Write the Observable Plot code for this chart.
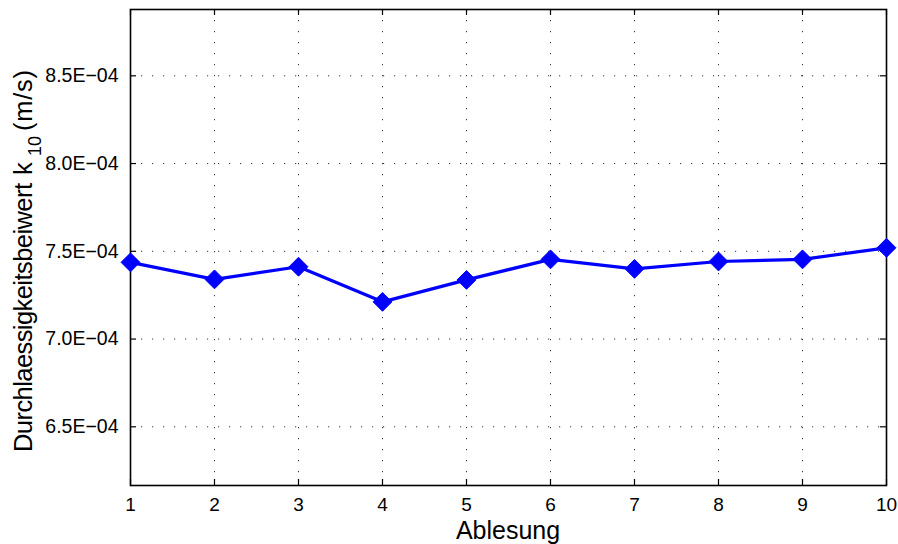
<!DOCTYPE html>
<html><head><meta charset="utf-8">
<script src="https://cdn.jsdelivr.net/npm/d3@7"></script>
<script src="https://cdn.jsdelivr.net/npm/@observablehq/plot@0.6"></script>
<style>body{margin:0;background:#fff;} svg{display:block;}</style>
</head><body><div id="chart"></div>
<script>
const ablesung = [1,2,3,4,5,6,7,8,9,10];
const kValues = [7.437e-4,7.340e-4,7.412e-4,7.212e-4,7.337e-4,7.454e-4,7.400e-4,7.442e-4,7.454e-4,7.520e-4];
const yTicks = [6.5e-4,7.0e-4,7.5e-4,8.0e-4,8.5e-4];
const yTickLabels = ["6.5E\u221204","7.0E\u221204","7.5E\u221204","8.0E\u221204","8.5E\u221204"];
const xTicks = [1,2,3,4,5,6,7,8,9,10];
const xLabel = "Ablesung";
const yLabelMain = "Durchlaessigkeitsbeiwert";
const yLabelSym = "k";
const yLabelSub = "10";
const yLabelUnit = "(m/s)";

const W = 898, H = 544, mL = 130, mR = 12, mT = 9, mB = 59;
const pw = W - mL - mR, ph = H - mT - mB;
const data = ablesung.map((a,i)=>({a, k:kValues[i]}));
const font = "Liberation Sans, Arial, Helvetica, sans-serif";

const chart = Plot.plot({
  width: W, height: H,
  marginLeft: mL, marginRight: mR, marginTop: mT, marginBottom: mB,
  style: {fontFamily: font, fontSize: "19px", background: "#fff"},
  x: {domain: [1,10]},
  y: {domain: [6.1655e-4, 8.8778e-4]},
  marks: [
    Plot.ruleX(xTicks, {stroke:"#000", strokeOpacity:0.8, strokeWidth:1, strokeDasharray:"1.2,9.8"}),
    Plot.ruleY(yTicks, {stroke:"#000", strokeOpacity:0.8, strokeWidth:1, strokeDasharray:"1.2,9.8"}),
    Plot.ruleX(xTicks, {stroke:"#000", strokeWidth:1.2, insetTop: ph-6}),
    Plot.ruleX(xTicks, {stroke:"#000", strokeWidth:1.2, insetBottom: ph-6}),
    Plot.ruleY(yTicks, {stroke:"#000", strokeWidth:1.2, insetRight: pw-6}),
    Plot.ruleY(yTicks, {stroke:"#000", strokeWidth:1.2, insetLeft: pw-6}),
    Plot.axisX(xTicks, {tickSize:0, tickPadding:12, fontSize:19, fill:"#000", label:null, tickFormat: d=>String(d)}),
    Plot.axisY(yTicks, {tickSize:0, tickPadding:12, fontSize:19.5, fill:"#000", label:null, tickFormat: d=>yTickLabels[yTicks.indexOf(d)]}),
    Plot.frame({stroke:"#000", strokeWidth:1.6}),
    Plot.line(data, {x:"a", y:"k", stroke:"#0000ff", strokeWidth:3.2}),
    Plot.dot(data, {x:"a", y:"k", symbol:"diamond2", r:8.5, fill:"#0000ff", stroke:"#0000ff", strokeWidth:1})
  ]
});
document.getElementById("chart").appendChild(chart);

const svg = d3.select(chart);
svg.append("text")
  .attr("x", 508).attr("y", 538.5)
  .attr("text-anchor", "middle")
  .attr("font-family", font)
  .attr("font-size", 25)
  .attr("fill", "#000")
  .text(xLabel);

function vText(str, x, y, size, len) {
  const el = svg.append("text")
    .attr("transform", `translate(${x},${y}) rotate(-90)`)
    .attr("text-anchor", "start")
    .attr("font-family", font)
    .attr("font-size", size)
    .attr("fill", "#000")
    .text(str);
  if (len) el.attr("textLength", len).attr("lengthAdjust", "spacing");
}
vText(yLabelMain, 32, 452, 25.5, 269);
vText(yLabelSym, 32, 175, 25.5);
vText(yLabelSub, 41, 156, 18);
vText(yLabelUnit, 32, 131, 25.5, 61);
</script></body></html>
